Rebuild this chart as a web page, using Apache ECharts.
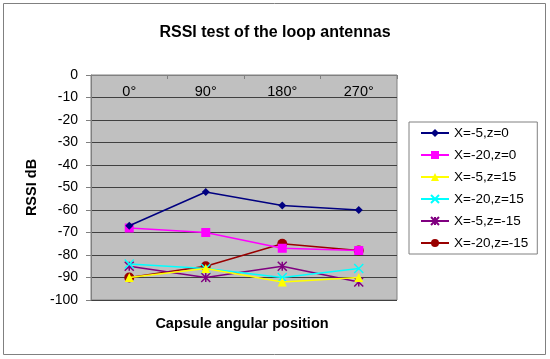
<!DOCTYPE html>
<html><head><meta charset="utf-8">
<script src="https://cdn.jsdelivr.net/npm/echarts@6/dist/echarts.min.js"></script>
<style>html,body{margin:0;padding:0;background:#fff}#c{width:550px;height:359px}</style>
</head><body><div id="c"></div>
<script>
const categories = ['0°', '90°', '180°', '270°'];
const seriesNames = ['X=-5,z=0', 'X=-20,z=0', 'X=-5,z=15', 'X=-20,z=15', 'X=-5,z=-15', 'X=-20,z=-15'];
const s1 = [-67, -52, -58, -60];
const s2 = [-68, -70, -77, -78];
const s3 = [-90, -86, -92, -90];
const s4 = [-84, -86, -90, -86];
const s5 = [-85, -90, -85, -92];
const s6 = [-90, -85, -75, -78];
const yTicks = [0, -10, -20, -30, -40, -50, -60, -70, -80, -90, -100];

const colors = ['#000080', '#FF00FF', '#FFFF00', '#00FFFF', '#800080', '#990000'];
const symbols = ['diamond', 'rect', 'triangle', 'path://M0,0L10,10M10,0L0,10', 'path://M0,0L10,10M10,0L0,10M5,0L5,10', 'circle'];
const sizes = [8, 9, 9, 9, 9, 10];
const data = [s1, s2, s3, s4, s5, s6];

const chart = echarts.init(document.getElementById('c'), null, {renderer: 'canvas'});
chart.setOption({
  animation: false,
  backgroundColor: '#fff',
  title: {
    text: 'RSSI test of the loop antennas', left: 'center', top: 20,
    textStyle: {fontFamily: 'Liberation Sans', fontSize: 16, fontWeight: 'bold', color: '#000'}
  },
  graphic: [
    {type: 'rect', shape: {x: 3.5, y: 3.5, width: 542, height: 351}, style: {fill: null, stroke: '#808080', lineWidth: 1}, silent: true, z: -1},
    {type: 'text', x: 242, y: 324, style: {text: 'Capsule angular position', font: 'bold 14.5px "Liberation Sans"', fill: '#000', textAlign: 'center', textVerticalAlign: 'middle'}}
  ],
  legend: {
    orient: 'vertical', left: 409, top: 122,
    padding: [4, 9, 4, 11], itemGap: 8, itemWidth: 28, itemHeight: 10,
    borderColor: '#808080', borderWidth: 1, backgroundColor: '#fff',
    textStyle: {fontFamily: 'Liberation Sans', fontSize: 13.5, color: '#000'},
    data: seriesNames
  },
  grid: {left: 91, top: 75, width: 306, height: 225, show: true, backgroundColor: '#c0c0c0', borderColor: '#808080', borderWidth: 1},
  xAxis: {
    type: 'category', position: 'top', data: categories, boundaryGap: true,
    axisLine: {show: true, lineStyle: {color: '#808080'}},
    axisTick: {show: true, inside: true, length: 4, lineStyle: {color: '#808080'}},
    axisLabel: {inside: true, margin: 9, fontFamily: 'Liberation Sans', fontSize: 14.5, color: '#000'},
    splitLine: {show: false}
  },
  yAxis: {
    type: 'value', min: -100, max: 0, interval: 10,
    name: 'RSSI dB', nameLocation: 'middle', nameRotate: 90, nameGap: 51,
    nameTextStyle: {fontFamily: 'Liberation Sans', fontSize: 14.5, fontWeight: 'bold', color: '#000'},
    axisLine: {show: true, lineStyle: {color: '#808080'}},
    axisTick: {show: true, length: 5, lineStyle: {color: '#808080'}},
    axisLabel: {margin: 13, fontFamily: 'Liberation Sans', fontSize: 14, color: '#000',
      formatter: v => yTicks.includes(v) ? String(v) : ''},
    splitLine: {show: true, lineStyle: {color: '#404040', width: 1}}
  },
  series: data.map((d, i) => ({
    name: seriesNames[i], type: 'line', data: d,
    symbol: symbols[i], symbolSize: sizes[i], showSymbol: true,
    lineStyle: {color: colors[i], width: 1.5},
    itemStyle: {color: colors[i], borderColor: colors[i], borderWidth: (i === 3 || i === 4) ? 1.5 : 0},
    z: 10 - i
  }))
});
</script></body></html>
